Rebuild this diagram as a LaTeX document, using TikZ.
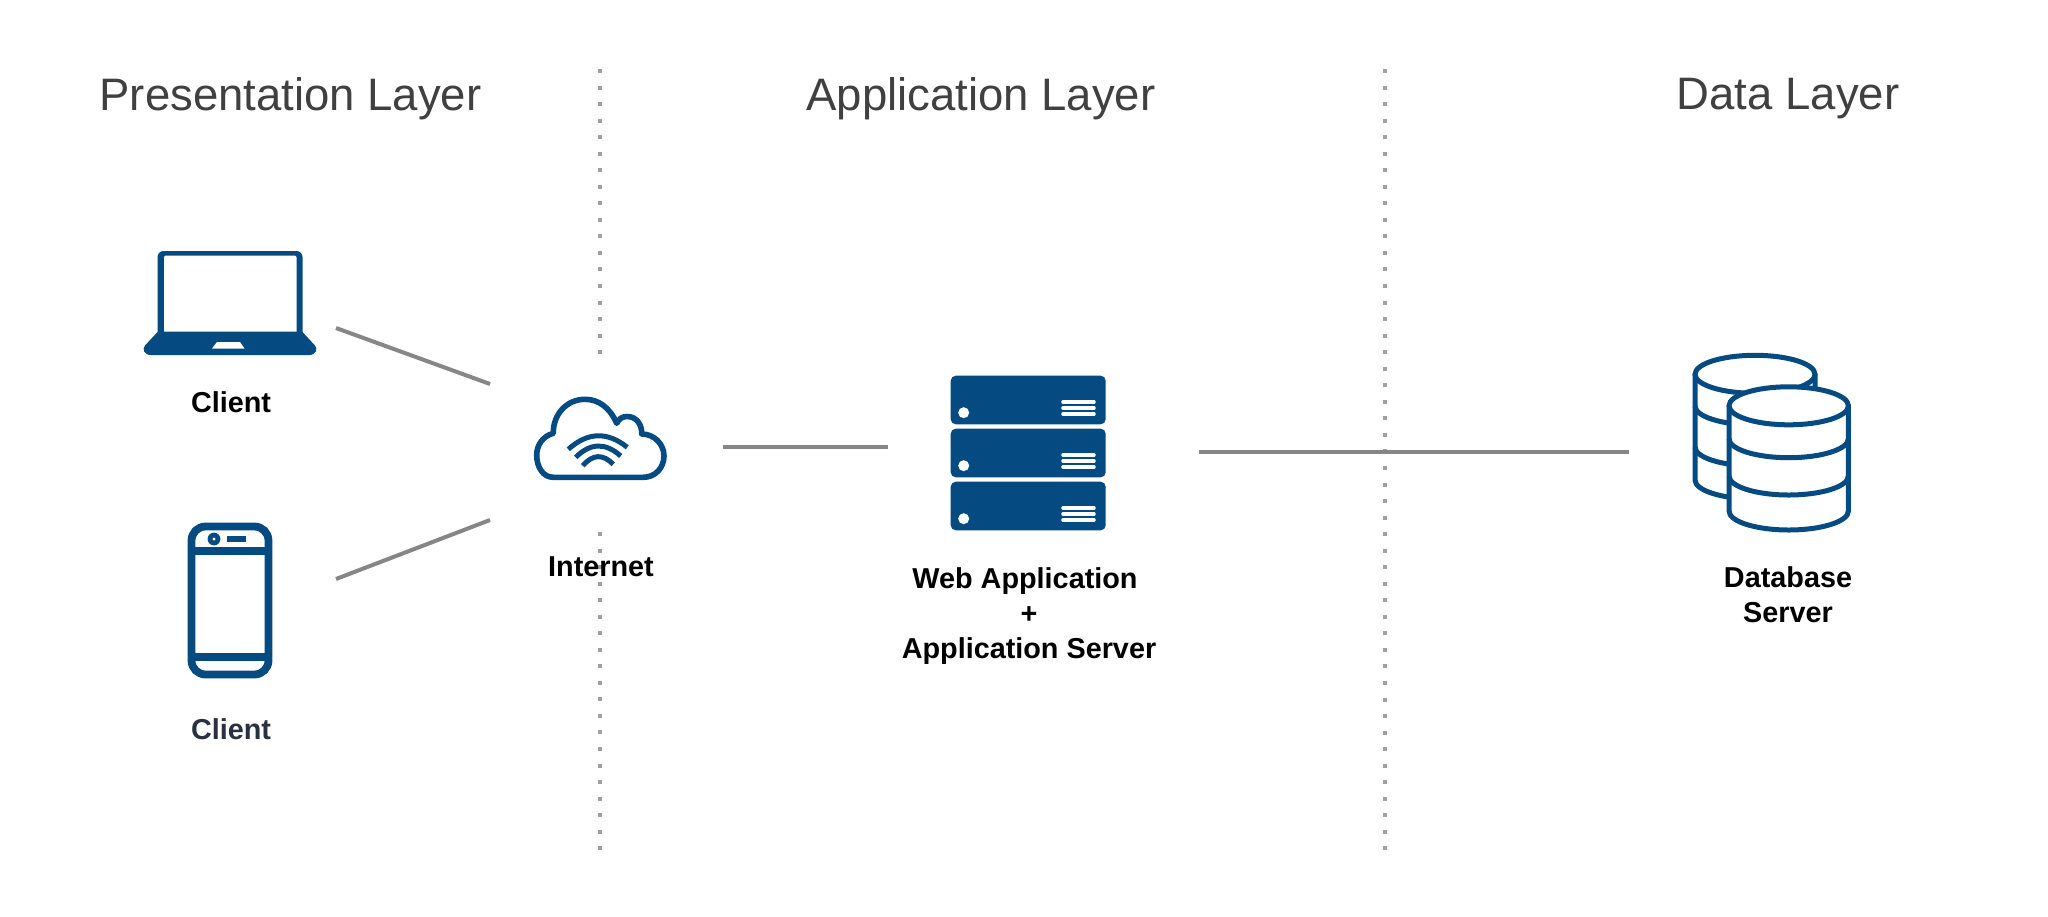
\documentclass[tikz,border=0pt]{standalone}
\usepackage{fontspec}
\setmainfont{Liberation Sans}
\definecolor{iconblue}{HTML}{064A82}
\definecolor{linegray}{HTML}{868686}
\definecolor{titlegray}{HTML}{404040}
\definecolor{dotgray}{HTML}{A0A0A0}
\definecolor{darklabel}{HTML}{2B3040}
\tikzset{
  px/.style={x=0.5pt,y=-0.5pt},
  conn/.style={draw=linegray,line width=2pt},
  divider/.style={draw=dotgray,line width=2pt,dash pattern=on 2pt off 6.27pt},
  title/.style={font=\fontsize{22.75}{27}\selectfont,text=titlegray,inner sep=0pt},
  label/.style={font=\fontsize{14.4}{17.6}\selectfont\bfseries,text=black,inner sep=0pt,align=center},
  phoneline/.style={draw=iconblue,line width=3.9pt},
  cloudline/.style={draw=iconblue,line width=2.8pt,line join=round},
  wifiline/.style={draw=iconblue,line width=2.5pt},
  dbline/.style={draw=iconblue,line width=2.5pt,fill=white,line join=round},
  dbband/.style={draw=iconblue,line width=2.5pt},
  rack/.style={fill=iconblue,rounded corners=2.5pt},
  rackbar/.style={fill=white,rounded corners=0.6pt}
}
\begin{document}
\begin{tikzpicture}[px]
\useasboundingbox (0,0) rectangle (2048,916);
\fill[white] (0,0) rectangle (2048,916);
% dividers
\coordinate (d1a) at (599.5,69); \coordinate (d1b) at (599.5,355);
\coordinate (d1c) at (599.5,532); \coordinate (d1d) at (599.5,851);
\coordinate (d2a) at (1384.5,69); \coordinate (d2b) at (1384.5,851);
\draw[divider] (d1a) -- (d1b);
\draw[divider] (d1c) -- (d1d);
\draw[divider] (d2a) -- (d2b);
% connectors
\coordinate (laptopend) at (336,328); \coordinate (cloudtop) at (490,384);
\coordinate (phoneend) at (336,579); \coordinate (cloudbot) at (490,520);
\coordinate (cloudright) at (723,447); \coordinate (serverleft) at (888,447);
\coordinate (serverright) at (1199,452); \coordinate (dbleft) at (1629,452);
\draw[conn] (laptopend) -- (cloudtop);
\draw[conn] (phoneend) -- (cloudbot);
\draw[conn] (cloudright) -- (serverleft);
\draw[conn] (serverright) -- (dbleft);
% titles
\node[title] (t1) at (290.5,99) {Presentation Layer};
\node[title] (t2) at (981,99) {Application Layer};
\node[title] (t3) at (1788,99) {Data Layer};
% laptop
\fill[iconblue,rounded corners=3pt] (157.5,340) -- (157.5,251) -- (302.5,251) -- (302.5,340) -- cycle;
\fill[white,rounded corners=1pt] (164,340) -- (164,255.5) -- (296.5,255.5) -- (296.5,340) -- cycle;
\fill[iconblue] (158,331.5) -- (145,345.5) .. controls (142,349) and (144,355) .. (151,355) -- (309,355) .. controls (316,355) and (318,349) .. (315,345.5) -- (302,331.5) -- cycle;
\fill[white] (217,342) -- (240,342) -- (244.5,348.5) -- (212,348.5) -- cycle;
\node[label] (client1) at (231,402) {Client};
% phone
\draw[phoneline,rounded corners=7pt] (191.5,526.5) rectangle (268.5,674.5);
\draw[phoneline] (191.5,551) -- (268.5,551);
\draw[phoneline] (191.5,657) -- (268.5,657);
\fill[iconblue] (214,539) circle (3.2pt);
\fill[white] (214,539) circle (0.8pt);
\fill[iconblue] (227,536) rectangle (246,542);
\node[label,text=darklabel] (client2) at (231,729) {Client};
% cloud
\draw[cloudline]
  (553.3,477.3) -- (643.3,477.3) .. controls (655,477.3) and (664,468) .. (664,456)
  .. controls (664,444) and (654,434) .. (641.7,434)
  .. controls (642,424) and (636,416.5) .. (627,416.5)
  .. controls (622,416.5) and (619,419) .. (616.7,423.3)
  .. controls (610,408) and (599,399.3) .. (585,399.3)
  .. controls (567,399.3) and (553,414) .. (553.3,433.3)
  .. controls (543,436) and (536.7,445) .. (536.7,455)
  .. controls (536.7,467) and (543,477.3) .. (553.3,477.3) -- cycle;
\draw[wifiline] (568.3,449.3) .. controls (588,431.6) and (607.6,431.6) .. (627.3,447.3);
\draw[wifiline] (575.7,457.3) .. controls (590.7,442.5) and (605.7,442.5) .. (620.7,456);
\draw[wifiline] (582.7,465.7) .. controls (593,453.9) and (603,453.9) .. (613.3,464.3);
\node[label] (internet) at (601,567) {Internet};
% server
\foreach \t in {375.7,428.7,481.7}{
  \path[rack] (950.7,\t) rectangle (1105.7,\t+48.6);
  \fill[white] (963.7,\t+37) circle (2.75pt);
  \foreach \d in {26.3,32.3,38.3}{
    \path[rackbar] (1061.3,\t+\d-1.8) rectangle (1095.7,\t+\d+1.8);
  }
}
\node[label] (webapp) at (1029,616) {Web Application\hspace*{4pt}\\+\\Application Server};
% database, back cylinder
\path[dbline] (1695,374.3) -- (1695,480) arc[start angle=180,end angle=0,x radius=60,y radius=19] -- (1815,374.3) -- cycle;
\draw[dbband] (1695,406) arc[start angle=180,end angle=60,x radius=60,y radius=19];
\draw[dbband] (1695,447) arc[start angle=180,end angle=60,x radius=60,y radius=19];
\draw[dbline] (1755,374.3) ellipse[x radius=60,y radius=19];
% database, front cylinder
\path[dbline] (1729,405.8) -- (1729,511) arc[start angle=180,end angle=0,x radius=59.7,y radius=19] -- (1848.4,405.8) -- cycle;
\draw[dbband] (1729,438.7) arc[start angle=180,end angle=0,x radius=59.7,y radius=19];
\draw[dbband] (1729,476) arc[start angle=180,end angle=0,x radius=59.7,y radius=19];
\draw[dbline] (1788.7,405.8) ellipse[x radius=59.7,y radius=19];
\node[label] (dbserver) at (1788,595) {Database\\Server};
\end{tikzpicture}
\end{document}
